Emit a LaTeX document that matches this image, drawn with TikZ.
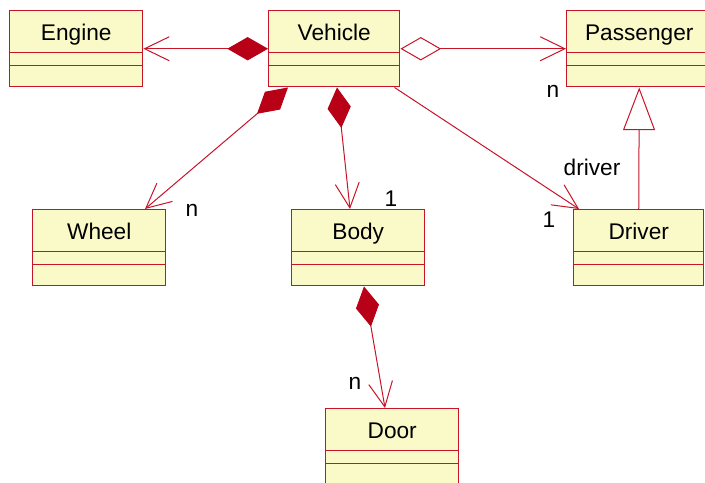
\documentclass[tikz,border=0pt]{standalone}
\usepackage{fontspec}
\setmainfont{Liberation Sans}
\usetikzlibrary{arrows.meta,calc}

\definecolor{umlred}{RGB}{200,20,40}
\definecolor{umldark}{RGB}{184,0,22}
\definecolor{umlfill}{RGB}{250,250,200}

\begin{document}
\begin{tikzpicture}[x=0.75pt,y=-0.75pt,
  font=\fontsize{17}{20}\selectfont,
  classbox/.style={draw=umlred,fill=umlfill,line width=1.1pt,
    minimum height=57pt,inner sep=0pt,anchor=north west},
  rel/.style={draw=umlred,line width=0.75pt},
  comp/.style={{Diamond[color=umldark,length=30.5pt,width=17.5pt]}-{Straight Barb[length=18.5pt,width=18pt]}},
  aggr/.style={{Diamond[open,fill=white,length=30.5pt,width=17.5pt]}-{Straight Barb[length=18.5pt,width=18pt]}},
  assoc/.style={-{Straight Barb[length=18.5pt,width=18pt]}},
  gen/.style={-{Triangle[open,fill=white,length=32pt,width=24pt]}}]

\useasboundingbox (0,0) rectangle (705,482);

%% class box: name, left, top, width, title
\newcommand\umlclass[5]{%
  \node[classbox,minimum width=#4*0.75pt] (#1) at (#2,#3) {};
  \node[anchor=base] (#1-name) at ($(#1.north)+(0,30)$) {#5};
  \draw[umlred,line width=0.75pt]
    ($(#1.north west)+(0,42)$) -- ($(#1.north east)+(0,42)$)
    ($(#1.north west)+(0,55)$) -- ($(#1.north east)+(0,55)$);
}

\umlclass{eng}{9}{10}{133}{Engine}
\umlclass{veh}{268}{10}{131}{Vehicle}
\umlclass{pas}{566}{10}{145}{Passenger}
\umlclass{whl}{32}{209}{133}{Wheel}
\umlclass{bdy}{291}{209}{133}{Body}
\umlclass{drv}{573}{209}{130}{Driver}
\umlclass{door}{325}{408}{133}{Door}

%% relations
\draw[rel,comp] (veh.west) -- (eng.east);
\draw[rel,aggr] (veh.east) -- (pas.west);
\draw[rel,comp] ($(veh.south west)+(20,0)$) -- ($(whl.north west)+(113,0)$);
\draw[rel,comp] ($(veh.south west)+(69,0)$) -- ($(bdy.north west)+(59,0)$);
\draw[rel,assoc] ($(veh.south east)+(-6,0)$) -- ($(drv.north west)+(6,0)$);
\draw[rel,gen] (drv.north) -- (pas.south);
\draw[rel,comp] ($(bdy.south west)+(73,0)$) -- ($(door.north west)+(60,0)$);

%% multiplicities
\node (n-whl) at (192,210) {n};
\node (one-bdy) at (391,199) {1};
\node (n-pas) at (553,91) {n};
\node (role-drv) at (592,167) {driver};
\node (one-drv) at (549,220) {1};
\node (n-door) at (355,383) {n};

\end{tikzpicture}
\end{document}
